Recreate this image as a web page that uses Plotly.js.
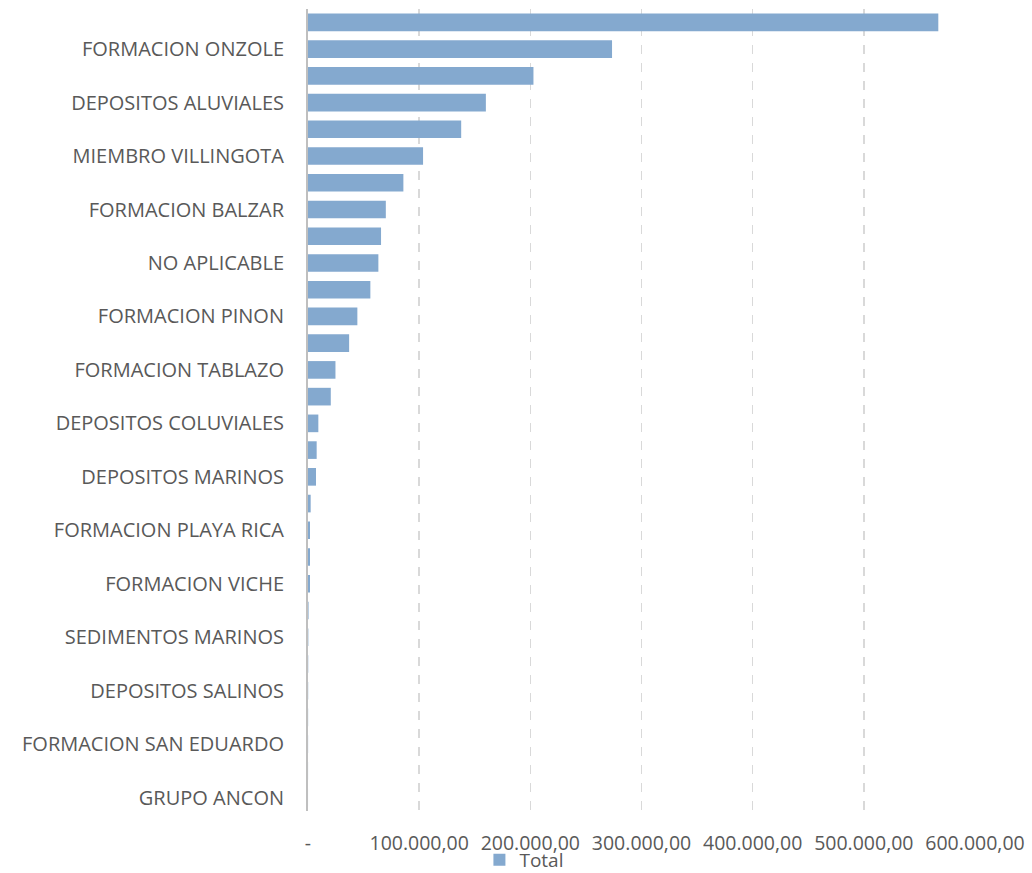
<!DOCTYPE html>
<html>
<head>
<meta charset="utf-8">
<script src="https://cdn.plot.ly/plotly-3.0.1.min.js"></script>
<style>html,body{margin:0;padding:0;background:#fff;}#chart{width:1032px;height:873px;}</style>
</head>
<body>
<div id="chart"></div>
<script>
// Category labels (only every other label is shown in the reference; hidden ones are blank)
const categories = [
  "", "FORMACION ONZOLE", "", "DEPOSITOS ALUVIALES", "", "MIEMBRO VILLINGOTA",
  "", "FORMACION BALZAR", "", "NO APLICABLE", "", "FORMACION PINON",
  "", "FORMACION TABLAZO", "", "DEPOSITOS COLUVIALES", "", "DEPOSITOS MARINOS",
  "", "FORMACION PLAYA RICA", "", "FORMACION VICHE", "", "SEDIMENTOS MARINOS",
  "", "DEPOSITOS SALINOS", "", "FORMACION SAN EDUARDO", "", "GRUPO ANCON"
];
const totals = [
  567000, 273500, 202800, 160000, 137800, 103500,
  85800, 70000, 65700, 63300, 56100, 44400,
  37000, 24700, 20500, 9300, 7800, 7200,
  2400, 1800, 1800, 1800, 500, 300,
  200, 150, 100, 80, 50, 30
];
const seriesName = "Total";
const xTickVals = [0, 100000, 200000, 300000, 400000, 500000, 600000];
const xTickText = ["-", "100.000,00", "200.000,00", "300.000,00", "400.000,00", "500.000,00", "600.000,00"];

const positions = categories.map((_, i) => i);
const labelPositions = positions.filter(i => categories[i] !== "");
const labelTexts = labelPositions.map(i => categories[i]);

const trace = {
  type: "bar",
  orientation: "h",
  name: seriesName,
  x: totals,
  y: positions,
  marker: { color: "#84a9cf", line: { width: 0 } },
  hoverinfo: "x+y",
  showlegend: true
};

const layout = {
  width: 1032,
  height: 873,
  margin: { l: 307.5, r: 57, t: 8.6, b: 61.6, pad: 0, autoexpand: false },
  paper_bgcolor: "#ffffff",
  plot_bgcolor: "#ffffff",
  font: { family: "Open Sans, sans-serif", color: "#595959", size: 20 },
  bargap: 0.34,
  showlegend: true,
  legend: {
    orientation: "h",
    x: 0.257, xanchor: "left",
    y: -0.061, yanchor: "middle",
    font: { size: 19, color: "#595959" },
    itemwidth: 30,
    tracegroupgap: 0,
    bgcolor: "rgba(0,0,0,0)"
  },
  xaxis: {
    range: [0, 600000],
    tickvals: xTickVals,
    ticktext: xTickText,
    tickfont: { size: 19.5, color: "#595959" },
    ticklabelstandoff: 18,
    showgrid: true,
    gridcolor: "#d9d9d9",
    griddash: "dash",
    gridwidth: 1.5,
    zeroline: false,
    showline: false,
    ticks: "",
    automargin: false,
    fixedrange: true
  },
  yaxis: {
    range: [categories.length - 0.5, -0.5],
    tickvals: labelPositions,
    ticktext: labelTexts,
    tickfont: { size: 20, color: "#595959" },
    ticklabelstandoff: 18,
    showgrid: false,
    zeroline: false,
    showline: true,
    linecolor: "#bfbfbf",
    linewidth: 2,
    ticks: "",
    automargin: false,
    fixedrange: true
  }
};

Plotly.newPlot("chart", [trace], layout, { displayModeBar: false, staticPlot: true });
</script>
</body>
</html>
